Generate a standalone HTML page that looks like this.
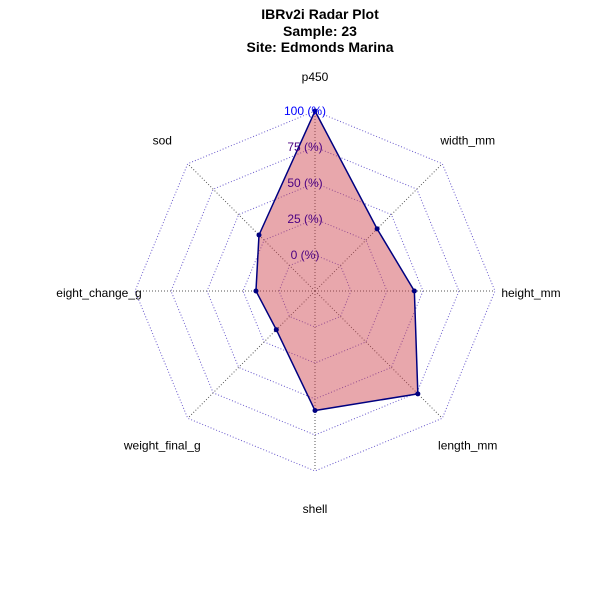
<!DOCTYPE html>
<html><head><meta charset="utf-8"><style>
body{margin:0;background:#fff;}
svg{display:block;font-family:"Liberation Sans",sans-serif;}
</style></head><body>
<svg id="c" width="600" height="600">
<text x="320" y="19" text-anchor="middle" font-size="14" font-weight="bold">IBRv2i Radar Plot</text>
<text x="320" y="36" text-anchor="middle" font-size="14" font-weight="bold">Sample: 23</text>
<text x="320" y="52" text-anchor="middle" font-size="14" font-weight="bold">Site: Edmonds Marina</text>
<g id="g"></g>
</svg>
<script>
const categories=["p450","sod","eight_change_g","weight_final_g","shell","length_mm","height_mm","width_mm"];
const values=[100,30,16,13,58,76,44,36];
const tickLabels=["0 (%)","25 (%)","50 (%)","75 (%)","100 (%)"];
const tickValues=[0,25,50,75,100];
const cx=315,cy=291,r0=36,r1=180;
const NS="http://www.w3.org/2000/svg";
const g=document.getElementById("g");
function rad(v){return r0+(r1-r0)*v/100;}
function pt(i,r){const a=Math.PI/2+i*2*Math.PI/categories.length;return [cx+r*Math.cos(a),cy-r*Math.sin(a)];}
function mk(t,a){const e=document.createElementNS(NS,t);for(const k in a)e.setAttribute(k,a[k]);g.appendChild(e);return e;}
tickValues.forEach((v,j)=>{
  const p=categories.map((c,i)=>pt(i,rad(v)).join(",")).join(" ");
  const e=mk("polygon",{points:p,fill:"none",stroke:"#6a5acd","stroke-width":1,"stroke-dasharray":"1,2"});
  
  
});
categories.forEach((c,i)=>{
  const a=pt(i,0),b=pt(i,r1);
  const e=mk("line",{x1:a[0],y1:a[1],x2:b[0],y2:b[1],stroke:"#555","stroke-width":1,"stroke-dasharray":"1,2"});
  
  
  const l=pt(i,216);
  const t=mk("text",{x:l[0],y:l[1]+6,"text-anchor":"middle","font-size":12});
  t.textContent=c;
  
  
});
const poly=values.map((v,i)=>pt(i,rad(v)).join(",")).join(" ");
const pe=mk("polygon",{points:poly,fill:"rgba(204,60,70,0.45)",stroke:"#000080","stroke-width":1.5});


values.forEach((v,i)=>{
  const p=pt(i,rad(v));
  const d=mk("circle",{cx:p[0],cy:p[1],r:2.5,fill:"#000080"});
  
  
});
tickValues.forEach((v,j)=>{
  const t=mk("text",{x:cx-10,y:cy-rad(v)+4,"text-anchor":"middle","font-size":12,fill:j==4?"#0000ff":"#4b0082"});
  t.textContent=tickLabels[j];
  
  
});
</script>
</body></html>
